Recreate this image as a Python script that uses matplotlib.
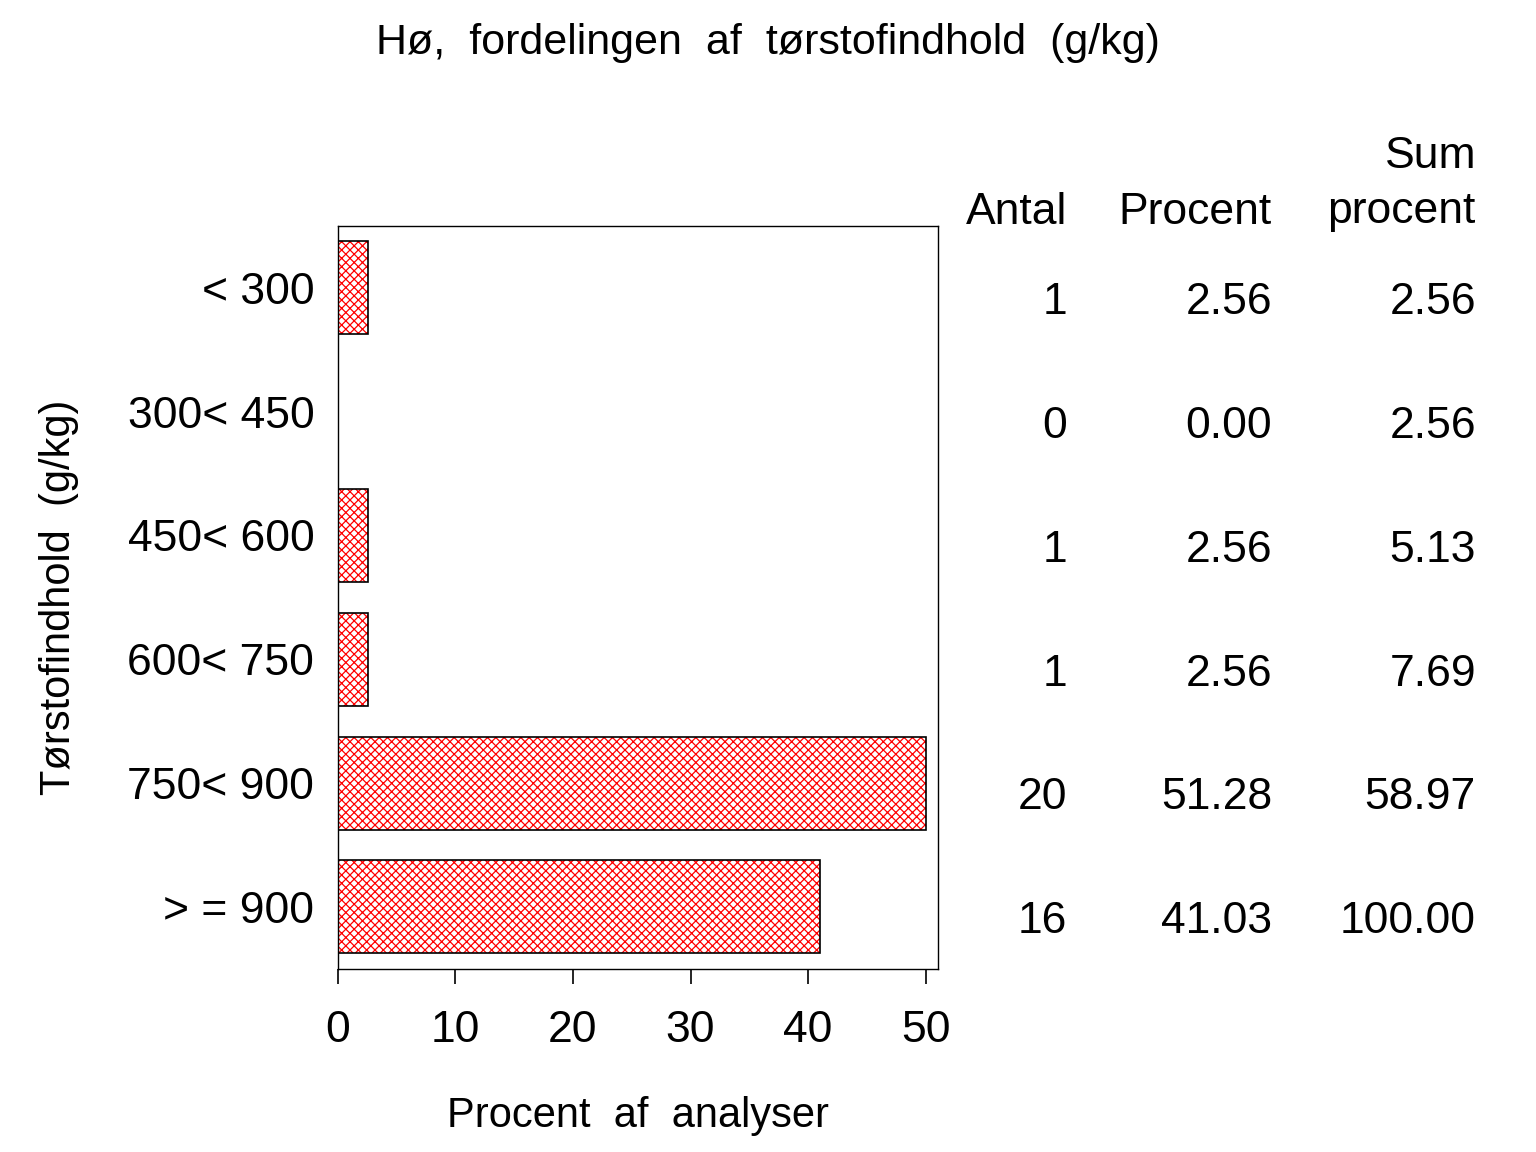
import numpy as np
import matplotlib
matplotlib.use("Agg")
import matplotlib.pyplot as plt
import matplotlib.transforms as mtransforms

plt.rcParams['font.family'] = ['Liberation Sans', 'DejaVu Sans']
plt.rcParams['hatch.linewidth'] = 0.9

categories = ["< 300", "300< 450", "450< 600", "600< 750", "750< 900", "> = 900"]
antal = [1, 0, 1, 1, 20, 16]
procent = [2.56, 0.00, 2.56, 2.56, 51.28, 41.03]
sum_procent = [2.56, 2.56, 5.13, 7.69, 58.97, 100.00]
x_ticks = [0, 10, 20, 30, 40, 50]

fig = plt.figure(figsize=(15.36, 11.52), dpi=100)
ax = fig.add_axes([0.220, 0.159, 0.391, 0.645])

y = np.arange(len(categories))
# SAS caps the drawn bar at the last tick mark
bar_len = np.minimum(procent, x_ticks[-1])
# red hatch fill first, black outline on top
ax.barh(y, bar_len, height=0.75, color='white', edgecolor='red',
        hatch='xxxx', linewidth=0)
ax.barh(y, bar_len, height=0.75, fill=False, edgecolor='black', linewidth=1.2)

ax.set_xlim(0, 51.1)
ax.set_ylim(len(categories) - 0.5, -0.5)
ax.set_yticks(y)
ax.set_yticklabels(categories, fontsize=32)
ax.set_xticks(x_ticks)
ax.set_xticklabels([str(t) for t in x_ticks], fontsize=32)
ax.tick_params(axis='y', length=0, pad=17)
ax.tick_params(axis='x', length=11, width=1.2, direction='out', pad=19)
for s in ax.spines.values():
    s.set_linewidth(1.0)

ax.set_xlabel("Procent  af  analyser", fontsize=30, labelpad=32)
ax.set_ylabel("Tørstofindhold  (g/kg)", fontsize=30, labelpad=35)

fig.text(0.5, 0.963, "Hø,  fordelingen  af  tørstofindhold  (g/kg)",
         ha='center', va='center', fontsize=31)

# table to the right, rows aligned with bars
tr = mtransforms.blended_transform_factory(fig.transFigure, ax.transData)
col_x = [1067 / 1536, 1272 / 1536, 1476 / 1536]
for i in range(len(categories)):
    ax.text(col_x[0], i + 0.12, f"{antal[i]}", transform=tr, ha='right',
            va='center', fontsize=32, clip_on=False)
    ax.text(col_x[1], i + 0.12, f"{procent[i]:.2f}", transform=tr, ha='right',
            va='center', fontsize=32, clip_on=False)
    ax.text(col_x[2], i + 0.12, f"{sum_procent[i]:.2f}", transform=tr, ha='right',
            va='center', fontsize=32, clip_on=False)

hy = 1 - 212 / 1152
fig.text(col_x[0], hy, "Antal", ha='right', va='center', fontsize=32)
fig.text(col_x[1], hy, "Procent", ha='right', va='center', fontsize=32)
fig.text(col_x[2], hy, "procent", ha='right', va='center', fontsize=32)
fig.text(col_x[2], 1 - 157 / 1152, "Sum", ha='right', va='center', fontsize=32)

fig.savefig("out.png", dpi=100)
